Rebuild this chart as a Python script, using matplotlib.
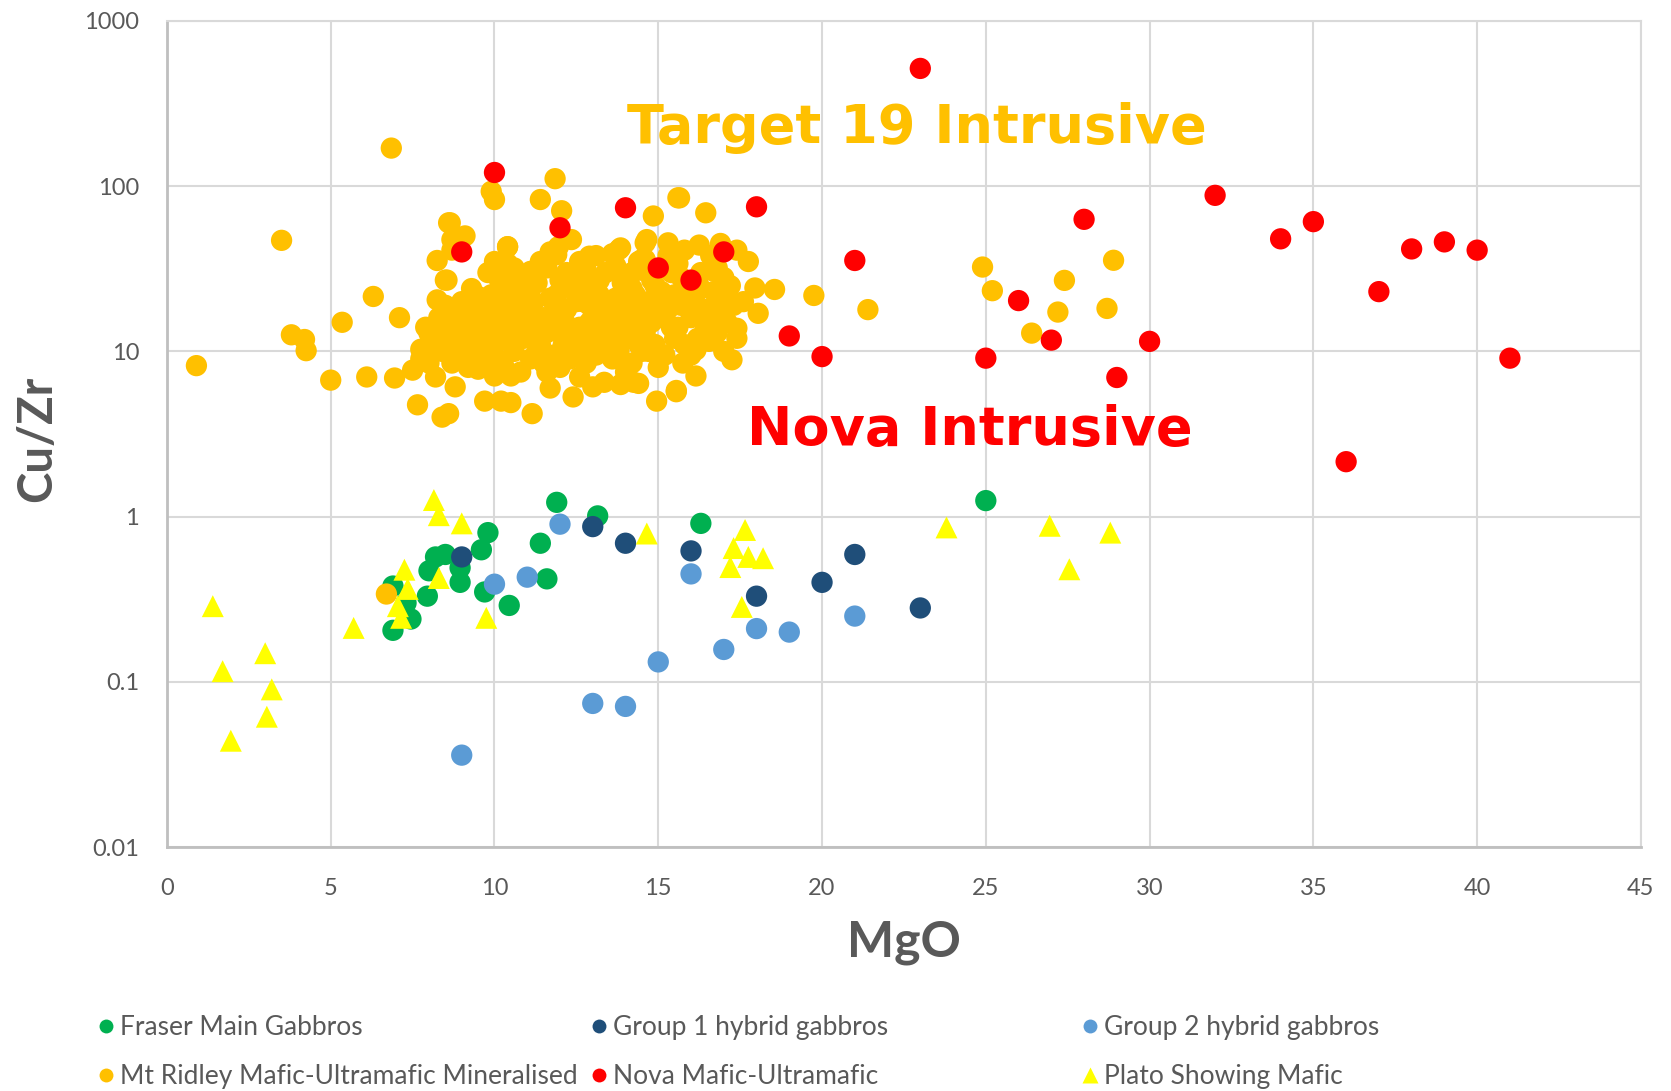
import matplotlib
matplotlib.use("Agg")
import matplotlib.pyplot as plt
from matplotlib.lines import Line2D
import numpy as np

# ---- data (MgO wt%, Cu/Zr) ----
fraser_mgo = [11.9, 13.15, 16.3, 9.8, 9.6, 11.4, 11.6, 10.45, 9.7, 8.95, 8.95, 8.2, 8.5, 8.0,
              7.95, 7.45, 7.3, 6.9, 6.9, 25.0]
fraser_cuzr = [1.22, 1.01, 0.91, 0.80, 0.63, 0.69, 0.42, 0.29, 0.35, 0.40, 0.49, 0.57, 0.59, 0.47,
               0.33, 0.24, 0.30, 0.205, 0.38, 1.25]

group1_mgo = [9.0, 13.0, 14.0, 16.0, 18.0, 20.0, 21.0, 23.0]
group1_cuzr = [0.57, 0.87, 0.69, 0.62, 0.33, 0.40, 0.59, 0.28]

group2_mgo = [12.0, 10.0, 11.0, 16.0, 15.0, 13.0, 14.0, 9.0, 17.0, 18.0, 19.0, 21.0]
group2_cuzr = [0.90, 0.39, 0.43, 0.45, 0.132, 0.074, 0.071, 0.036, 0.157, 0.21, 0.20, 0.25]

# Mt Ridley: scattered outliers first, then the dense core
ridley_mgo = [6.85, 9.9, 10.0, 8.6, 9.1, 8.7, 8.25, 8.5, 8.25, 3.5, 6.3, 5.35, 7.1, 3.8,
              4.2, 4.25, 0.9, 5.0, 6.1, 6.95, 7.5, 7.65, 8.2, 8.8, 8.4, 8.6, 9.7, 10.2,
              10.5, 7.75, 7.75, 10.4, 8.0, 8.5, 8.5, 8.9, 9.2, 9.5, 9.3, 9.5, 10.0, 10.5,
              11.85, 11.4, 12.05, 12.35, 11.95, 11.9, 14.85, 15.6, 8.65, 10.4, 8.7, 8.55,
              10.4, 11.1, 11.1, 12.9, 13.8, 14.6, 15.3, 15.8, 14.5, 12.7, 10.15, 9.35,
              11.15, 11.7, 12.4, 13.0, 13.85, 14.4, 14.95, 15.55, 16.15,
              15.65, 16.45, 18.55, 19.75, 21.4, 17.25, 15.55, 18.05, 17.75, 17.4, 17.95,
              17.4, 16.9, 17.6, 17.1, 16.7, 16.25, 16.9, 14.65, 13.85, 14.45, 16.55, 16.15,
              15.75, 14.25, 13.35, 24.9, 25.2, 27.4, 27.2, 26.4, 28.9, 28.7, 6.7,
              8.6, 8.8, 8.9, 9.0, 9.1, 9.2, 9.3, 9.4, 8.7, 9.0, 9.3, 9.5, 8.9, 9.2,
              9.6, 9.7, 9.8, 9.9, 10.0, 10.1, 10.2, 10.3, 10.4, 10.5, 9.6, 9.8, 10.0, 10.1,
              10.3, 10.4, 10.5, 9.7, 10.2, 10.0,
              10.6, 10.7, 10.8, 10.9, 11.0, 11.1, 11.2, 11.3, 11.4, 11.5, 10.6, 10.8, 11.0,
              11.2, 11.4, 10.7, 11.1, 11.3, 11.5, 10.9, 11.2, 10.6,
              11.6, 11.7, 11.8, 11.9, 12.0, 12.1, 12.2, 12.3, 12.4, 12.5, 11.6, 11.8, 12.0,
              12.2, 12.4, 11.7, 11.9, 12.1, 12.3, 12.5, 12.0, 11.6,
              12.6, 12.7, 12.8, 12.9, 13.0, 13.1, 13.2, 13.3, 13.4, 13.5, 12.6, 12.8, 13.0,
              13.2, 13.4, 12.7, 12.9, 13.1, 13.3, 13.5, 12.6, 13.0, 13.2, 12.8,
              13.6, 13.7, 13.8, 13.9, 14.0, 14.1, 14.2, 14.3, 14.4, 14.5, 13.6, 13.8, 14.0,
              14.2, 14.4, 13.7, 13.9, 14.1, 14.3, 14.5, 13.6, 14.0, 14.2,
              14.6, 14.7, 14.8, 14.9, 15.0, 15.1, 15.2, 15.3, 15.4, 15.5, 14.6, 14.8, 15.0,
              15.2, 15.4, 14.7, 14.9, 15.1, 15.3, 15.5,
              15.6, 15.7, 15.8, 15.9, 16.0, 16.1, 16.2, 16.3, 16.4, 16.5, 15.6, 15.8, 16.0,
              16.2, 16.4, 15.7, 16.1, 16.3,
              16.6, 16.7, 16.8, 16.9, 17.0, 17.1, 17.3, 17.4, 16.6, 17.0, 17.2, 16.8,
              7.8, 8.0, 8.1, 8.3, 8.4, 8.2, 8.5, 8.0, 7.9]
ridley_cuzr = [170, 93, 83, 60, 50, 47.5, 35.5, 27, 20.5, 47, 21.5, 15, 16, 12.6,
               11.8, 10.1, 8.2, 6.7, 7.0, 6.9, 7.7, 4.75, 7.0, 6.1, 4.0, 4.2, 5.0, 5.0,
               4.9, 10.3, 9.0, 43, 12.9, 10.7, 14.9, 17.1, 20.6, 21.5, 9.8, 7.8, 7.1, 7.1,
               111, 83, 71, 47.5, 43, 38.5, 66, 85, 60, 43, 41, 27,
               34, 30.5, 26.5, 37.7, 41.3, 45.4, 45.4, 41, 36, 29.8, 27, 20.6,
               4.2, 6.0, 5.3, 6.1, 6.3, 6.4, 5.0, 5.7, 7.1,
               85, 69, 23.7, 21.8, 17.9, 8.9, 5.8, 17, 35, 41, 24.2,
               13.8, 15.6, 20, 23.7, 30.5, 44, 45, 47.5, 42.3, 31, 11.5, 10.2,
               8.5, 6.5, 6.5, 32.4, 23.3, 26.9, 17.3, 12.9, 35.6, 18.2, 0.34,
               14, 11, 16, 13, 9.5, 18, 12, 15, 8.5, 20, 24, 10.5, 9.0, 8.0,
               13, 17, 11, 22, 14, 9, 19, 12, 16, 25, 8.5, 30, 35, 11.5,
               8, 21, 13.5, 20, 28, 18,
               10, 15, 22, 12, 18, 9, 14, 26, 11, 16, 32, 7.5, 13,
               20, 35, 24, 17, 10, 8.5, 28, 12.5, 19,
               13, 21, 9.5, 15, 27, 11, 18, 14, 24, 10, 32, 17, 8,
               30, 12, 40, 22, 16, 9, 20, 13, 7.5,
               14, 25, 11, 19, 16, 9.5, 22, 13, 30, 17, 35, 8.5, 12,
               27, 10, 20, 15, 38, 18, 11.5, 7, 24, 14.5, 31,
               15, 21, 10, 18, 28, 12, 24, 14, 35, 17, 9, 13, 19,
               8.5, 11, 33, 26, 16, 22, 10, 39, 7.5, 30,
               13, 20, 27, 11, 16, 23, 9.5, 18, 30, 12, 36, 15, 8,
               21, 14, 10, 25, 17, 38, 22,
               14, 19, 11, 25, 16, 21, 12, 30, 18, 13, 34, 22, 9.5,
               27, 15, 28, 10.5, 24,
               17, 23, 13, 20, 28, 15, 19, 12, 38, 10, 25, 32,
               9.5, 11, 13, 16, 10, 12, 19, 8.5, 14]

nova_mgo = [23, 10, 9, 12, 14, 15, 16, 17, 18, 19, 20, 21, 25, 26, 27, 28, 29, 30, 32,
            34, 35, 36, 37, 38, 39, 40, 41]
nova_cuzr = [516, 121, 40, 56, 74, 32, 27, 40, 75, 12.4, 9.3, 35.5, 9.1, 20.3, 11.7, 63,
             6.95, 11.5, 88, 48, 61, 2.15, 23, 41.7, 46, 41, 9.1]

plato_mgo = [1.4, 1.7, 1.95, 3.0, 3.2, 3.05, 5.7, 8.15, 8.3, 9.0, 7.25, 7.35, 8.3, 7.05,
             7.15, 9.75, 14.65, 17.65, 17.3, 17.75, 18.2, 17.2, 17.55, 23.8, 26.95, 27.55,
             28.8]
plato_cuzr = [0.287, 0.116, 0.044, 0.149, 0.090, 0.0615, 0.212, 1.26, 1.02, 0.91, 0.477,
              0.365, 0.425, 0.287, 0.244, 0.244, 0.79, 0.83, 0.645, 0.57, 0.56, 0.495,
              0.284, 0.86, 0.88, 0.48, 0.80]

series = [
    ("Fraser Main Gabbros", fraser_mgo, fraser_cuzr, "#00B050", "o"),
    ("Group 1 hybrid gabbros", group1_mgo, group1_cuzr, "#1F4E79", "o"),
    ("Group 2 hybrid gabbros", group2_mgo, group2_cuzr, "#5B9BD5", "o"),
    ("Mt Ridley Mafic-Ultramafic Mineralised", ridley_mgo, ridley_cuzr, "#FFC000", "o"),
    ("Nova Mafic-Ultramafic", nova_mgo, nova_cuzr, "#FF0000", "o"),
    ("Plato Showing Mafic", plato_mgo, plato_cuzr, "#FFFF00", "^"),
]

x_ticks = [0, 5, 10, 15, 20, 25, 30, 35, 40, 45]
y_ticks = [0.01, 0.1, 1, 10, 100, 1000]
y_tick_labels = ["0.01", "0.1", "1", "10", "100", "1000"]

grey = "#595959"
plt.rcParams["font.family"] = ["Lato", "DejaVu Sans"]

fig = plt.figure(figsize=(16.71, 10.91), dpi=100)
ax1 = fig.add_axes([0.0999, 0.2236, 0.8821, 0.7572])

for i, (name, xs, ys, col, mk) in enumerate(series):
    size = 250 if mk == "^" else 235
    ax1.scatter(xs, ys, s=size, c=col, marker=mk, edgecolors="none", zorder=3 + i)

ax1.set_yscale("log")
ax1.set_xlim(0, 45)
ax1.set_ylim(0.01, 1000)
ax1.set_xticks(x_ticks)
ax1.set_xticklabels([str(t) for t in x_ticks])
ax1.set_yticks(y_ticks)
ax1.set_yticklabels(y_tick_labels)
ax1.minorticks_off()
ax1.tick_params(axis="both", length=0, labelsize=17, colors=grey)
ax1.tick_params(axis="x", pad=22)
ax1.tick_params(axis="y", pad=20)
ax1.grid(True, color="#D9D9D9", linewidth=1.5, zorder=0)
ax1.set_axisbelow(True)
for side in ["top", "right"]:
    ax1.spines[side].set_color("#D9D9D9")
    ax1.spines[side].set_linewidth(1.5)
for side in ["left", "bottom"]:
    ax1.spines[side].set_color("#BFBFBF")
    ax1.spines[side].set_linewidth(2)

ax1.text(22.9, 225, "Target 19 Intrusive", color="#FFC000", fontsize=39,
         fontweight="bold", family="DejaVu Sans", ha="center", va="center", zorder=20)
ax1.text(24.5, 3.35, "Nova Intrusive", color="#FF0000", fontsize=39,
         fontweight="bold", family="DejaVu Sans", ha="center", va="center", zorder=20)

fig.text(0.541, 0.1357, "MgO", fontsize=36, fontweight="bold", color=grey,
         ha="center", va="center")
fig.text(0.0221, 0.5976, "Cu/Zr", fontsize=34, fontweight="bold", color=grey,
         ha="center", va="center", rotation=90)

# legend: 3 columns of 2 rows, like the Excel layout
col_x = [0.0585, 0.3535, 0.6475]
for c in range(3):
    handles = []
    for r in range(2):
        name, xs, ys, col, mk = series[c + 3 * r]
        handles.append(Line2D([], [], linestyle="none", marker=mk, markersize=10 if mk == "o" else 12,
                              markerfacecolor=col, markeredgecolor="none", label=name))
    leg = fig.legend(handles=handles, loc="center left", bbox_to_anchor=(col_x[c], 0.0357),
                     frameon=False, fontsize=19, handlelength=0.6, handletextpad=0.25,
                     borderpad=0, borderaxespad=0, labelspacing=0.9)
    for t in leg.get_texts():
        t.set_color(grey)

fig.savefig("out.png", dpi=100)
